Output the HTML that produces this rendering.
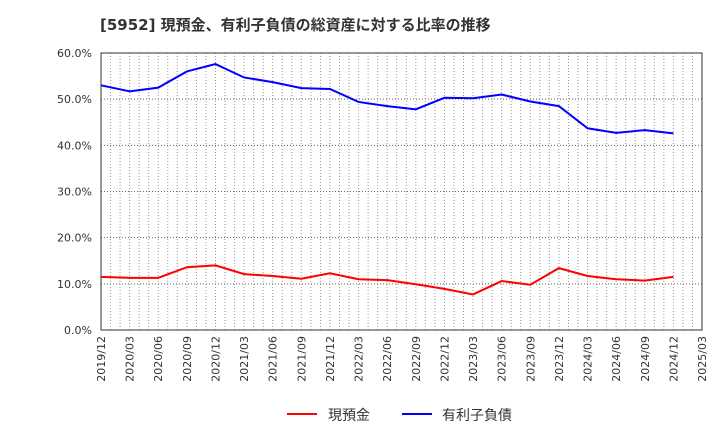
<!DOCTYPE html>
<html><head><meta charset="utf-8"><style>
body{margin:0;background:#fff;font-family:"DejaVu Sans","Noto Sans CJK JP",sans-serif}
svg text{font-family:"DejaVu Sans","Noto Sans CJK JP",sans-serif}
</style></head><body>
<svg id="c" width="720" height="440" xmlns="http://www.w3.org/2000/svg">
<text x="100" y="30" font-size="15" font-weight="bold" fill="#333">[5952]  現預金、有利子負債の総資産に対する比率の推移</text>
<g id="grid"></g><g id="axes"></g><g id="series"></g>
<g>
<line x1="287" y1="414" x2="317" y2="414" stroke="#f00" stroke-width="2"/>
<text x="328" y="420" font-size="14" fill="#333">現預金</text>
<line x1="402" y1="414" x2="432" y2="414" stroke="#00f" stroke-width="2"/>
<text x="442" y="420" font-size="14" fill="#333">有利子負債</text>
</g>
</svg>
<script>
const categories=["2019/12","2020/03","2020/06","2020/09","2020/12","2021/03","2021/06","2021/09","2021/12","2022/03","2022/06","2022/09","2022/12","2023/03","2023/06","2023/09","2023/12","2024/03","2024/06","2024/09","2024/12"];
const tickLabels=["2019/12","2020/03","2020/06","2020/09","2020/12","2021/03","2021/06","2021/09","2021/12","2022/03","2022/06","2022/09","2022/12","2023/03","2023/06","2023/09","2023/12","2024/03","2024/06","2024/09","2024/12","2025/03"];
const yTicks=[0,10,20,30,40,50,60];
const cash=[11.5,11.3,11.3,13.6,14.0,12.1,11.7,11.1,12.3,11.0,10.8,9.9,8.9,7.7,10.6,9.8,13.4,11.7,11.0,10.7,11.5];
const debt=[53.0,51.7,52.5,56.0,57.6,54.7,53.7,52.4,52.2,49.4,48.5,47.8,50.3,50.2,51.0,49.5,48.5,43.7,42.7,43.3,42.6];
const L=101,R=702,T=53,B=330,NS="http://www.w3.org/2000/svg";
const xs=i=>L+i*(R-L)/(tickLabels.length-1);
const ys=v=>B-(v/60)*(B-T);
function mk(t,a,p){const e=document.createElementNS(NS,t);for(const k in a)e.setAttribute(k,a[k]);p.appendChild(e);return e;}
const g=document.getElementById('grid'),ax=document.getElementById('axes'),s=document.getElementById('series');
for(let m=1;m<(tickLabels.length-1)*3;m++){const x=L+m*(R-L)/((tickLabels.length-1)*3);
const l=mk('line',{x1:x,x2:x,y1:T,y2:B,stroke:'#999','stroke-dasharray':'1,2','stroke-width':1},g);

}
yTicks.forEach(v=>{const y=ys(v);
if(v>0&&v<60){const l=mk('line',{x1:L,x2:R,y1:y,y2:y,stroke:'#666','stroke-dasharray':'1,2'},g);

}
const t=mk('text',{x:L-9,y:y+4,'text-anchor':'end','font-size':11,fill:'#333'},ax);t.textContent=v.toFixed(1)+'%';

});
tickLabels.forEach((c,i)=>{const x=xs(i);
const t=mk('text',{transform:`translate(${x+4},${B+6}) rotate(-90)`,'text-anchor':'end','font-size':11,fill:'#333'},ax);t.textContent=c;

});
const fr=mk('rect',{x:L,y:T,width:R-L,height:B-T,fill:'none',stroke:'#333'},ax);


[[cash,'#f00','cash-line'],[debt,'#00f','debt-line']].forEach(([d,c,n])=>{
const p=mk('polyline',{points:d.map((v,i)=>xs(i)+','+ys(v)).join(' '),fill:'none',stroke:c,'stroke-width':2},s);

});
</script>
</body></html>
